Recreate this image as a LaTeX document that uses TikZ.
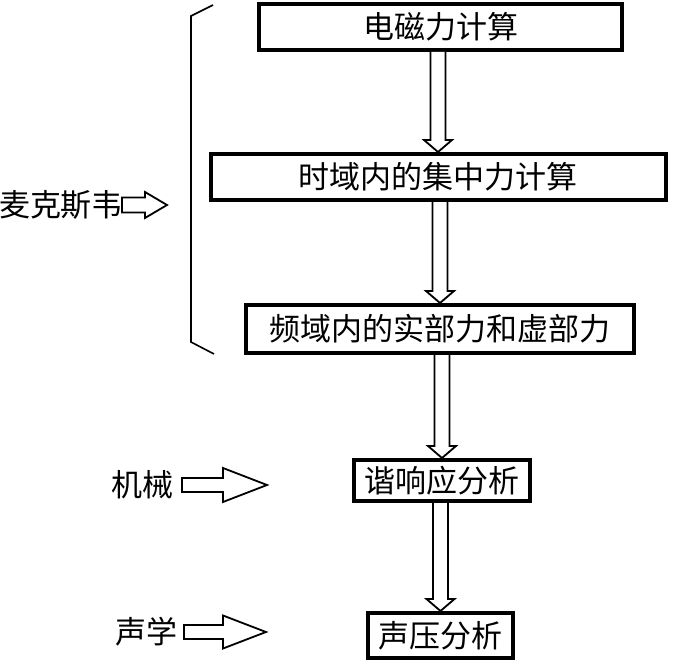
\documentclass[tikz,border=0pt]{standalone}
\usepackage{fontspec}
\newfontfamily\cjk{Noto Sans CJK SC}
\usetikzlibrary{calc}
\newcommand{\dnarrow}[2]{%
  \draw[arr] ($(#1.south -| #2.north)+(-7.5,0)$) -- ($(#2.north)+(-7.5,-12)$) -- ($(#2.north)+(-14,-12)$) -- (#2.north) -- ($(#2.north)+(14,-12)$) -- ($(#2.north)+(7.5,-12)$) -- ($(#1.south -| #2.north)+(7.5,0)$);}
% #1 start coordinate, #2 tip coordinate, #3 shaft half height, #4 head half height, #5 head length
\newcommand{\rtarrow}[5]{%
  \draw[arr] ($(#1)+(0,-#3)$) -- ($(#2)+(-#5,-#3)$) -- ($(#2)+(-#5,-#4)$) -- (#2) -- ($(#2)+(-#5,#4)$) -- ($(#2)+(-#5,#3)$) -- ($(#1)+(0,#3)$) -- cycle;}
\begin{document}
\begin{tikzpicture}[x=1pt,y=-1pt,
  txt/.style={font=\cjk\fontsize{31}{31}\selectfont,inner sep=0pt,outer sep=0pt},
  box/.style={txt,draw,line width=4pt,outer sep=2pt,align=center},
  arr/.style={draw,line width=1.8pt,fill=white,line join=miter},
  brace/.style={draw,line width=1.6pt,line join=miter}]
\useasboundingbox (0,0) rectangle (673,661);
% boxes
\node[box,minimum width=363pt,minimum height=46pt] (b1) at (440.5,27) {电磁力计算};
\node[box,minimum width=455pt,minimum height=46pt] (b2) at (438,177) {时域内的集中力计算};
\node[box,minimum width=388pt,minimum height=48pt] (b3) at (440,329) {频域内的实部力和虚部力};
\node[box,minimum width=176pt,minimum height=41pt] (b4) at (442,480.5) {谐响应分析};
\node[box,minimum width=145pt,minimum height=45pt] (b5) at (440.5,635.5) {声压分析};
% down arrows
\dnarrow{b1}{b2}
\dnarrow{b2}{b3}
\dnarrow{b3}{b4}
\dnarrow{b4}{b5}
% brace
\coordinate (br1) at (213,5);
\coordinate (br2) at (191,16);
\coordinate (br3) at (191,342);
\coordinate (br4) at (214,354);
\draw[brace] (br1) -- (br2) -- (br3) -- (br4);
% left labels
\node[txt] (mx) at (61,205) {麦克斯韦};
\coordinate (mxs) at (122,205);
\coordinate (mxt) at (167,205);
\rtarrow{mxs}{mxt}{7.5}{13}{22}
\node[txt] (jx) at (142.5,485) {机械};
\coordinate (jxs) at (182,485);
\coordinate (jxt) at (267,485);
\rtarrow{jxs}{jxt}{7}{17}{44}
\node[txt] (sx) at (146,632) {声学};
\coordinate (sxs) at (184,632);
\coordinate (sxt) at (266,632);
\rtarrow{sxs}{sxt}{7}{16.5}{43}
\end{tikzpicture}
\end{document}
